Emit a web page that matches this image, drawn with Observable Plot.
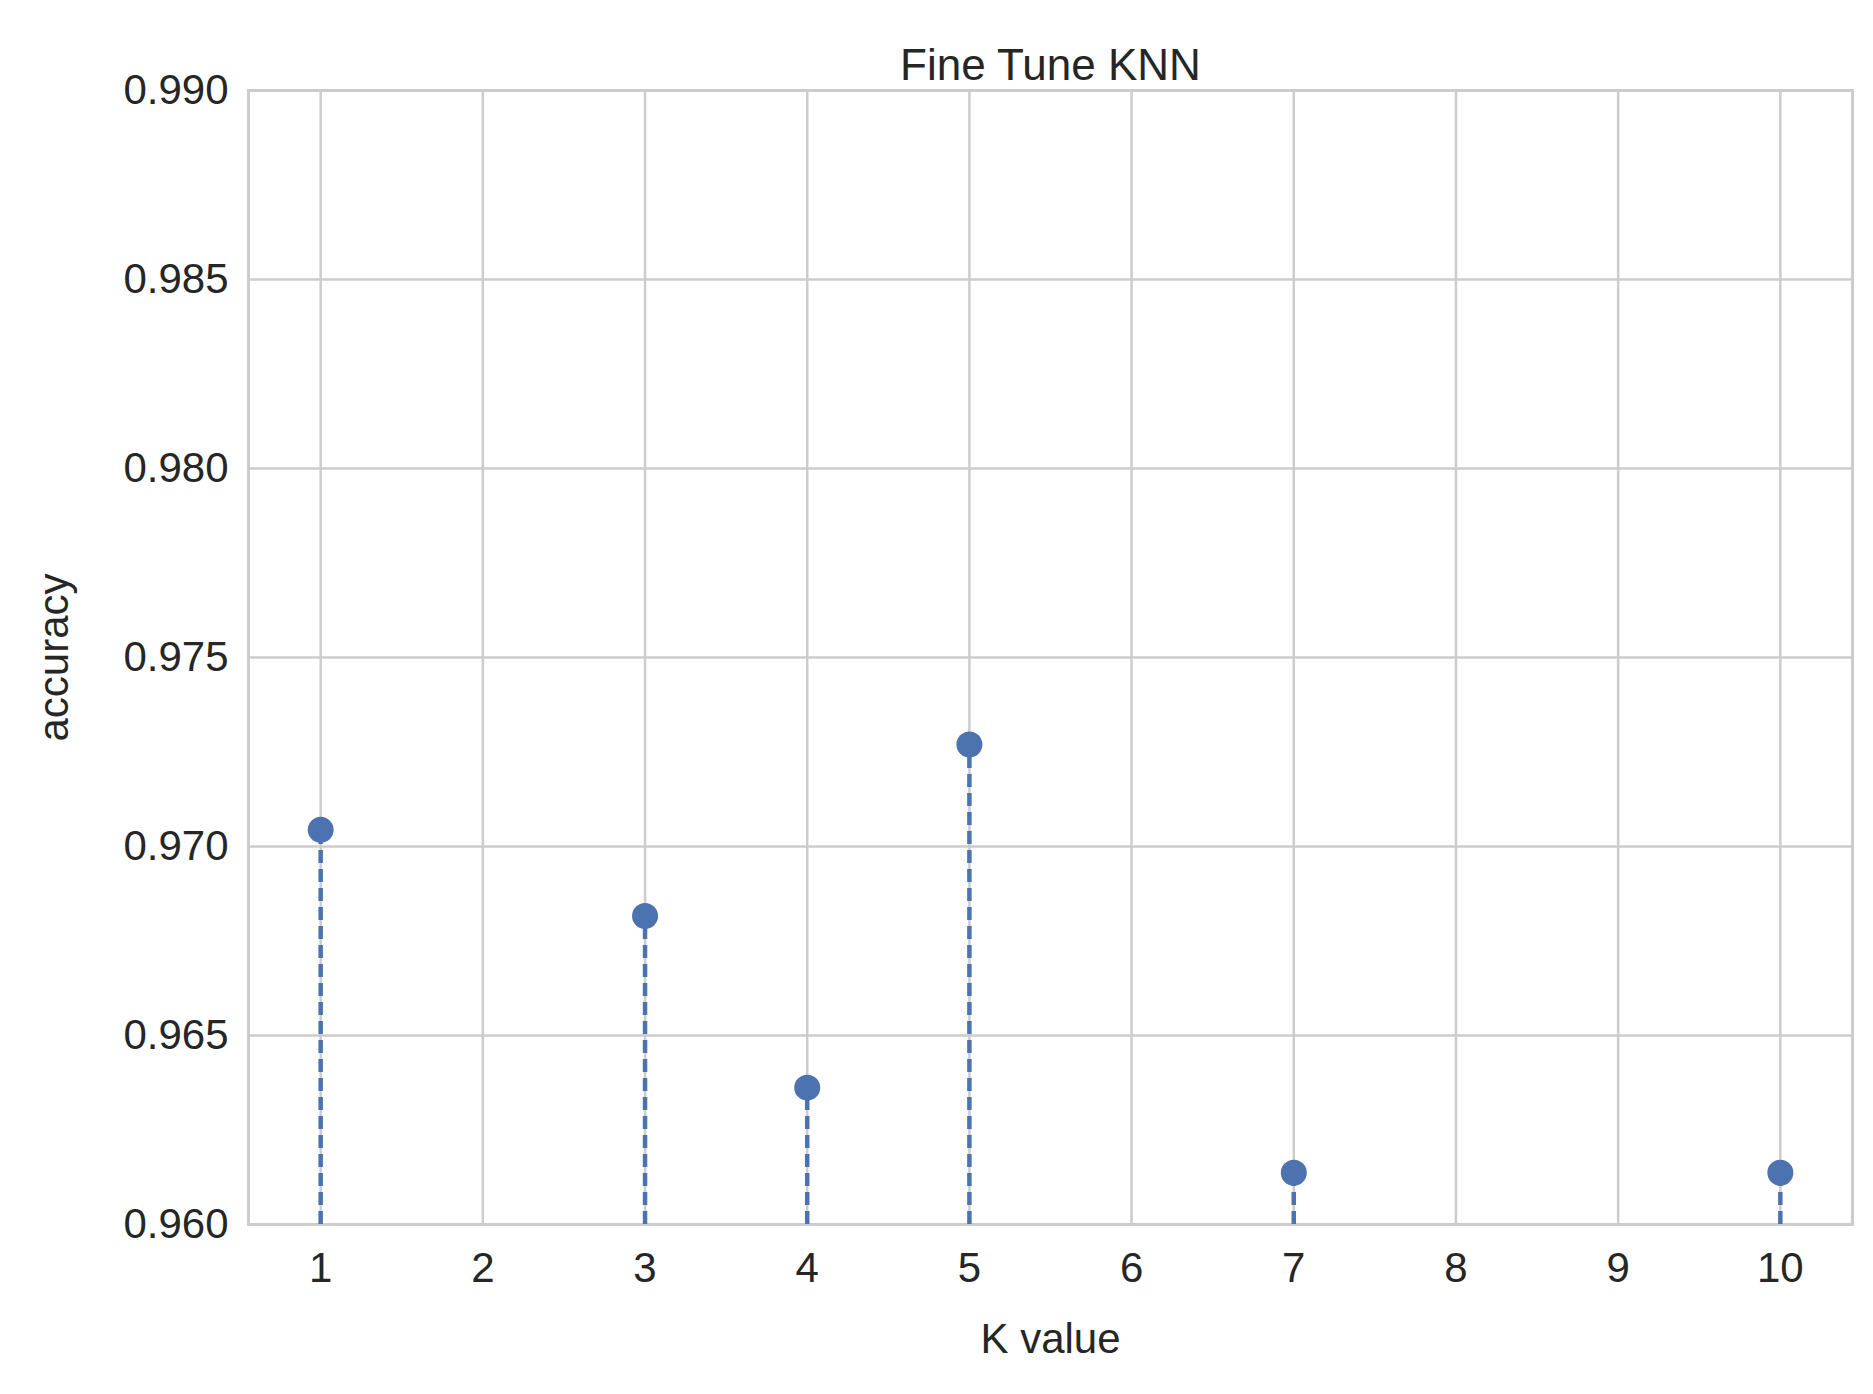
<!DOCTYPE html>
<html><head><meta charset="utf-8">
<script src="https://cdn.jsdelivr.net/npm/d3@7"></script>
<script src="https://cdn.jsdelivr.net/npm/@observablehq/plot@0.6"></script>
<style>body{margin:0;background:#fff}</style>
</head><body><div id="chart"></div>
<script>
const kValues = [1, 3, 4, 5, 7, 10];
const accuracy = [0.97044, 0.96816, 0.96362, 0.9727, 0.96137, 0.96137];
const xTicks = [1, 2, 3, 4, 5, 6, 7, 8, 9, 10];
const yTicks = [0.960, 0.965, 0.970, 0.975, 0.980, 0.985, 0.990];

const data = kValues.map((k, i) => ({k, acc: accuracy[i]}));
const blue = "#4c72b0";

let chart = Plot.plot({
  width: 1873, height: 1394,
  marginLeft: 248, marginRight: 21, marginTop: 90, marginBottom: 170,
  style: {fontFamily: "Liberation Sans, Arial, sans-serif", fontSize: "42px", color: "#262626", background: "#fff"},
  x: {domain: [0.555, 10.445]},
  y: {domain: [0.96, 0.99]},
  marks: [
    Plot.gridX(xTicks, {stroke: "#cccccc", strokeWidth: 2.5, strokeOpacity: 1}),
    Plot.gridY(yTicks, {stroke: "#cccccc", strokeWidth: 2.5, strokeOpacity: 1}),
    Plot.frame({stroke: "#cccccc", strokeWidth: 3}),
    Plot.ruleX(data, {x: "k", y1: 0.96, y2: "acc", stroke: blue, strokeWidth: 4.5, strokeDasharray: "13,6"}),
    Plot.dot(data, {x: "k", y: "acc", r: 13, fill: blue}),
    Plot.axisX({ticks: xTicks, tickSize: 0, tickPadding: 28, label: "K value", labelAnchor: "center", labelArrow: "none", labelOffset: 128, fontSize: 42}),
    Plot.axisY({ticks: yTicks, tickFormat: d3.format(".3f"), tickSize: 0, tickPadding: 20, label: "accuracy", labelAnchor: "center", labelArrow: "none", labelOffset: 210, fontSize: 42}),
    Plot.text(["Fine Tune KNN"], {frameAnchor: "top", dy: -42, fontSize: 44, fill: "#262626"})
  ]
});
d3.select('#chart').append(() => chart);
</script>
</body></html>
